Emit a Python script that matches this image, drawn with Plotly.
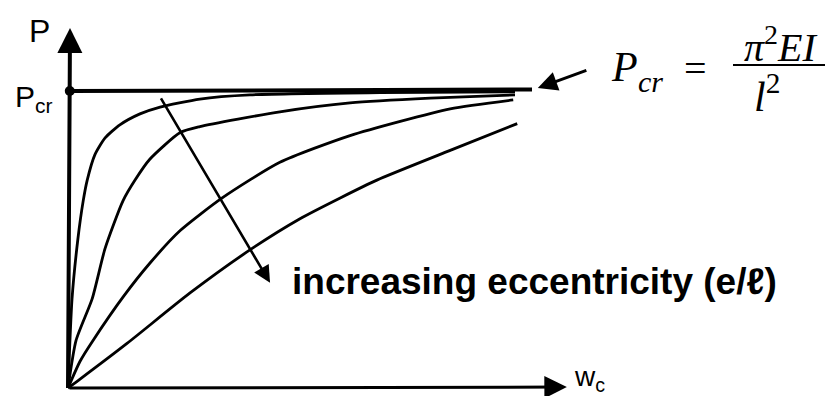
import plotly.graph_objects as go

# ---- data (w_c in arbitrary units, P / Pcr) ----
w1 = [0, 0.09, 0.22, 0.34, 0.43, 0.60, 0.83, 1.16, 1.61, 2.06, 2.95, 4.07, 6.98, 10.0]
p1 = [0, 0.30, 0.50, 0.63, 0.70, 0.785, 0.842, 0.886, 0.923, 0.946, 0.973, 0.987, 0.995, 0.997]
w2 = [0, 0.18, 0.54, 0.83, 1.23, 1.50, 1.83, 2.51, 2.95, 4.74, 6.31, 8.10, 10.0]
p2 = [0, 0.16, 0.30, 0.47, 0.63, 0.70, 0.77, 0.86, 0.88, 0.93, 0.96, 0.976, 0.987]
w3 = [0, 0.27, 0.56, 1.25, 1.83, 2.51, 3.45, 4.74, 6.31, 8.55, 9.96]
p3 = [0, 0.09, 0.16, 0.31, 0.42, 0.53, 0.64, 0.76, 0.85, 0.94, 0.97]
w4 = [0, 0.27, 1.32, 2.73, 4.12, 5.19, 6.09, 6.91, 8.55, 10.05]
p4 = [0, 0.03, 0.15, 0.32, 0.47, 0.57, 0.64, 0.70, 0.80, 0.89]
curves = [(w1, p1), (w2, p2), (w3, p3), (w4, p4)]

pcr_w = [0.04, 10.38]
pcr_p = [1.0, 1.005]

# axis arrows (tail -> tip)
yaxis_tail, yaxis_tip = (0.0, -0.005), (0.045, 1.212)
xaxis_tail, xaxis_tip = (0.0, 0.0), (11.16, 0.003)
ecc_tail, ecc_tip = (2.06, 0.98), (4.52, 0.354)
form_tail, form_tip = (11.63, 1.071), (10.51, 1.01)

W, H = 829, 396
X0, Y0, SX, SY = 68, 388, 44.7, 297  # pixel origin and scale


def px(x):
    return x / W


def py(y):
    return 1 - y / H


fig = go.Figure()
for w, p in curves:
    fig.add_trace(go.Scatter(x=w, y=p, mode="lines", line=dict(color="black", width=2.8, shape="spline", smoothing=0.6),
                             hoverinfo="skip", showlegend=False))
fig.add_trace(go.Scatter(x=pcr_w, y=pcr_p, mode="lines", line=dict(color="black", width=4),
                         hoverinfo="skip", showlegend=False))
fig.add_trace(go.Scatter(x=[pcr_w[0]], y=[pcr_p[0]], mode="markers", marker=dict(color="black", size=10),
                         hoverinfo="skip", showlegend=False))

ann = []
for tail, tip, wdt, sz in [(yaxis_tail, yaxis_tip, 4, 1.25), (xaxis_tail, xaxis_tip, 3, 1.5),
                           (ecc_tail, ecc_tip, 2.6, 1.3), (form_tail, form_tip, 3, 1.3)]:
    ann.append(dict(x=tip[0], y=tip[1], ax=tail[0], ay=tail[1], xref="x", yref="y", axref="x", ayref="y",
                    text="", showarrow=True, arrowhead=2, arrowwidth=wdt, arrowsize=sz, arrowcolor="black"))

hand = "Liberation Sans"
serif = "Liberation Serif"


def txt(t, x, y, size, family):
    ann.append(dict(text=t, x=px(x), y=py(y), xref="paper", yref="paper", showarrow=False,
                    xanchor="center", yanchor="middle", font=dict(size=size, family=family, color="black")))


txt("P", 39, 31, 32, hand)
txt("P<sub>cr</sub>", 34, 98, 30, hand)
txt("w<sub>c</sub>", 589, 378, 28, hand)
txt("<b>increasing eccentricity (e/ℓ)</b>", 534, 281, 37, "Liberation Sans")
txt("<i>P</i>", 624, 67, 42, serif)
txt("<i>cr</i>", 650, 81, 30, serif)
txt("=", 695, 68, 40, serif)
txt("<i>π</i><sup>2</sup><i>EI</i>", 780, 44, 40, serif)
txt("<i>l</i><sup>2</sup>", 767, 93, 42, serif)

fig.update_layout(
    width=W, height=H, margin=dict(l=0, r=0, t=0, b=0),
    paper_bgcolor="white", plot_bgcolor="white",
    xaxis=dict(range=[(0 - X0) / SX, (W - X0) / SX], visible=False, fixedrange=True),
    yaxis=dict(range=[(Y0 - H) / SY, (Y0 - 0) / SY], visible=False, fixedrange=True),
    annotations=ann,
    shapes=[dict(type="line", xref="paper", yref="paper", x0=px(733), x1=px(825), y0=py(65), y1=py(65),
                 line=dict(color="black", width=2))],
)
fig.write_html("out.html", config={"displayModeBar": False},
               post_script="document.body.style.margin='0';document.body.style.overflow='hidden';")
